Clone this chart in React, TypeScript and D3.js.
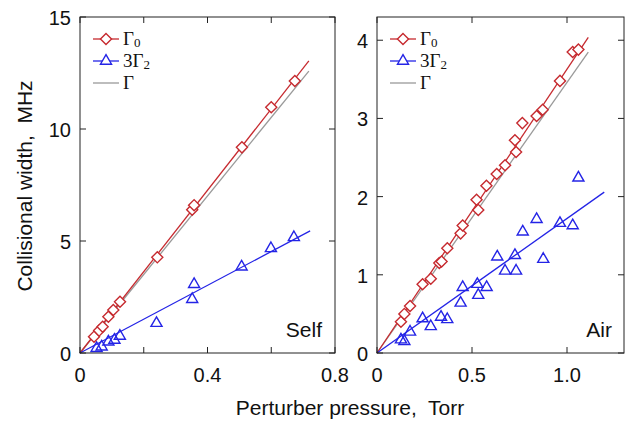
import React from "react";
import * as d3 from "d3";

// ---- Self panel data ----
const selfG0X = [0.044, 0.06, 0.071, 0.089, 0.1045, 0.1255, 0.2425, 0.352, 0.358, 0.508, 0.6, 0.674];
const selfG0Y = [0.73, 1.0, 1.17, 1.62, 1.92, 2.29, 4.27, 6.4, 6.6, 9.18, 10.97, 12.14];
const self3G2X = [0.052, 0.068, 0.089, 0.108, 0.125, 0.24, 0.352, 0.358, 0.507, 0.599, 0.671];
const self3G2Y = [0.21, 0.28, 0.5, 0.58, 0.76, 1.33, 2.4, 3.07, 3.85, 4.67, 5.16];
const selfFitEnd = 0.718;
const selfSlopeG0 = 18.16;
const selfSlope3G2 = 7.55;
const selfSlopeG = 17.53;

// ---- Air panel data ----
const airG0X = [0.126, 0.144, 0.174, 0.24, 0.283, 0.328, 0.34, 0.37, 0.44, 0.451, 0.524, 0.533, 0.576, 0.63, 0.674, 0.726, 0.732, 0.765, 0.84, 0.872, 0.963, 1.03, 1.06];
const airG0Y = [0.4, 0.5, 0.6, 0.88, 0.95, 1.15, 1.17, 1.34, 1.53, 1.63, 1.96, 1.83, 2.14, 2.29, 2.4, 2.72, 2.57, 2.94, 3.03, 3.11, 3.48, 3.85, 3.88];
const air3G2X = [0.126, 0.144, 0.174, 0.24, 0.283, 0.337, 0.37, 0.44, 0.451, 0.528, 0.533, 0.577, 0.633, 0.674, 0.726, 0.732, 0.767, 0.84, 0.875, 0.963, 1.03, 1.06];
const air3G2Y = [0.17, 0.15, 0.27, 0.44, 0.34, 0.46, 0.43, 0.64, 0.84, 0.88, 0.74, 0.84, 1.23, 1.05, 1.25, 1.05, 1.55, 1.71, 1.2, 1.66, 1.63, 2.24];
const airFitEndG0 = 1.112;
const airFitEnd3G2 = 1.196;
const airSlopeG0 = 3.63;
const airSlope3G2 = 1.72;
const airSlopeG = 3.46;

// ---- Axes ----
const selfXTicks = [0, 0.2, 0.4, 0.6, 0.8];
const selfXLabels = ["0", "", "0.4", "", "0.8"];
const selfYTicks = [0, 5, 10, 15];
const airXTicks = [0, 0.5, 1.0];
const airXLabels = ["0", "0.5", "1.0"];
const airYTicks = [0, 1, 2, 3, 4];

const RED = "#c62a2f";
const BLUE = "#2424e6";
const GREY = "#9a9a9a";
const SANS = "'Liberation Sans', Arial, sans-serif";
const SERIF = "'Liberation Serif', 'Times New Roman', serif";

const diamond = d3.symbol().type(d3.symbolDiamond2).size(78)();
const triangle = d3.symbol().type(d3.symbolTriangle2).size(88)();

type PanelProps = {
  left: number; right: number; top: number; bottom: number;
  xMax: number; yMax: number;
  xTicks: number[]; xLabels: string[]; yTicks: number[];
  g0x: number[]; g0y: number[]; g2x: number[]; g2y: number[];
  endG0: number; end3G2: number; endG: number;
  slopeG0: number; slope3G2: number; slopeG: number;
  label: string; labelX: number; labelSize: number;
};

function Panel(p: PanelProps) {
  const x = d3.scaleLinear().domain([0, p.xMax]).range([p.left, p.right]);
  const y = d3.scaleLinear().domain([0, p.yMax]).range([p.bottom, p.top]);
  const line = d3.line<[number, number]>().x(d => x(d[0])).y(d => y(d[1]));
  const tl = 6;
  const lx0 = p.left + 13;
  const lx1 = p.left + 39;
  const ly = [p.top + 22, p.top + 44, p.top + 66];
  return (
    <g>
      <path d={line([[0, 0], [p.endG, p.endG * p.slopeG]])!} stroke={GREY} strokeWidth={1.3} fill="none" />
      <path d={line([[0, 0], [p.endG0, p.endG0 * p.slopeG0]])!} stroke={RED} strokeWidth={1.3} fill="none" />
      <path d={line([[0, 0], [p.end3G2, p.end3G2 * p.slope3G2]])!} stroke={BLUE} strokeWidth={1.3} fill="none" />
      {p.g2x.map((v, i) => (
        <path key={"t" + i} d={triangle} transform={`translate(${x(v)},${y(p.g2y[i])})`} fill="none" stroke={BLUE} strokeWidth={1.4} />
      ))}
      {p.g0x.map((v, i) => (
        <path key={"d" + i} d={diamond} transform={`translate(${x(v)},${y(p.g0y[i])})`} fill="white" stroke={RED} strokeWidth={1.4} />
      ))}
      <rect x={p.left} y={p.top} width={p.right - p.left} height={p.bottom - p.top} fill="none" stroke="#222" strokeWidth={1} />
      {p.xTicks.map((t, i) => (
        <g key={"xt" + i}>
          <line x1={x(t)} x2={x(t)} y1={p.bottom} y2={p.bottom - tl} stroke="#222" />
          <line x1={x(t)} x2={x(t)} y1={p.top} y2={p.top + tl} stroke="#222" />
          <text x={x(t)} y={382} fontSize={20} fontFamily={SANS} textAnchor="middle" fill="#111">{p.xLabels[i]}</text>
        </g>
      ))}
      {p.yTicks.map((t, i) => (
        <g key={"yt" + i}>
          <line x1={p.left} x2={p.left + tl} y1={y(t)} y2={y(t)} stroke="#222" />
          <line x1={p.right} x2={p.right - tl} y1={y(t)} y2={y(t)} stroke="#222" />
          <text x={p.left - 9} y={y(t) + 8} fontSize={20} fontFamily={SANS} textAnchor="end" fill="#111">{String(t)}</text>
        </g>
      ))}
      <line x1={lx0} x2={lx1} y1={ly[0]} y2={ly[0]} stroke={RED} strokeWidth={1.3} />
      <path d={diamond} transform={`translate(${(lx0 + lx1) / 2},${ly[0]})`} fill="white" stroke={RED} strokeWidth={1.4} />
      <text x={lx1 + 4} y={ly[0] + 6} fontSize={19} fontFamily={SERIF} fill="#111">Γ<tspan fontSize={13} dy={2}>0</tspan></text>
      <line x1={lx0} x2={lx1} y1={ly[1]} y2={ly[1]} stroke={BLUE} strokeWidth={1.3} />
      <path d={triangle} transform={`translate(${(lx0 + lx1) / 2},${ly[1]})`} fill="white" stroke={BLUE} strokeWidth={1.4} />
      <text x={lx1 + 4} y={ly[1] + 6} fontSize={19} fontFamily={SERIF} fill="#111">3Γ<tspan fontSize={13} dy={2}>2</tspan></text>
      <line x1={lx0} x2={lx1} y1={ly[2]} y2={ly[2]} stroke={GREY} strokeWidth={1.3} />
      <text x={lx1 + 4} y={ly[2] + 6} fontSize={19} fontFamily={SERIF} fill="#111">Γ</text>
      <text x={p.labelX} y={337} fontSize={p.labelSize} fontFamily={SANS} textAnchor="end" fill="#111">{p.label}</text>
    </g>
  );
}

export default function App() {
  return (
    <svg width={628} height={423} style={{ position: "absolute", left: 0, top: 0, background: "white" }}>
      <Panel left={80} right={335} top={17} bottom={353} xMax={0.8} yMax={15}
        xTicks={selfXTicks} xLabels={selfXLabels} yTicks={selfYTicks}
        g0x={selfG0X} g0y={selfG0Y} g2x={self3G2X} g2y={self3G2Y}
        endG0={selfFitEnd} end3G2={selfFitEnd + 0.004} endG={selfFitEnd}
        slopeG0={selfSlopeG0} slope3G2={selfSlope3G2} slopeG={selfSlopeG}
        label="Self" labelX={322} labelSize={21} />
      <Panel left={377} right={624} top={17} bottom={353} xMax={1.3} yMax={4.297}
        xTicks={airXTicks} xLabels={airXLabels} yTicks={airYTicks}
        g0x={airG0X} g0y={airG0Y} g2x={air3G2X} g2y={air3G2Y}
        endG0={airFitEndG0} end3G2={airFitEnd3G2} endG={airFitEndG0}
        slopeG0={airSlopeG0} slope3G2={airSlope3G2} slopeG={airSlopeG}
        label="Air" labelX={612} labelSize={21} />
      <text x={350} y={415} fontSize={21} fontFamily={SANS} textAnchor="middle" fill="#111" xmlSpace="preserve">Perturber pressure,  Torr</text>
      <text transform="translate(32,186) rotate(-90)" fontSize={21} fontFamily={SANS} textAnchor="middle" fill="#111" xmlSpace="preserve">Collisional width,  MHz</text>
    </svg>
  );
}
